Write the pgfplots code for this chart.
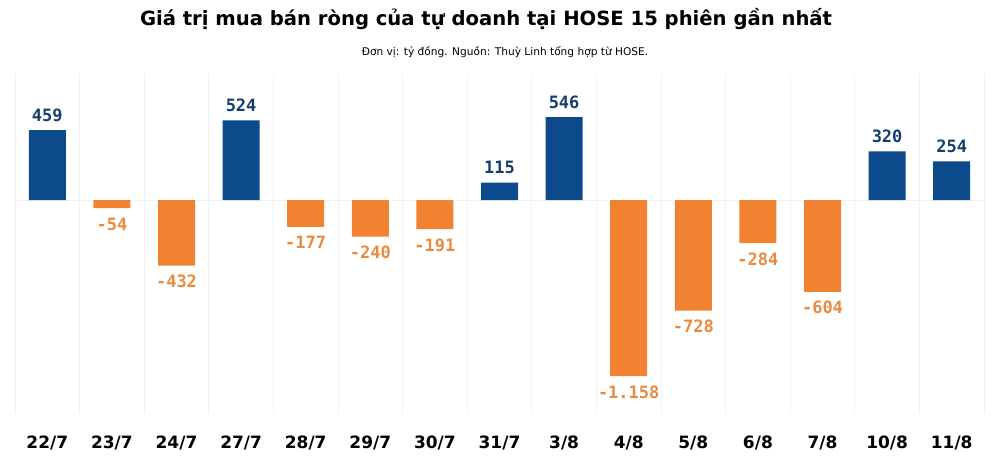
\documentclass[border=0pt]{standalone}
\usepackage{pgfplots}
\pgfplotsset{compat=1.18}
\usepackage{fontspec}
\setmainfont{DejaVu Sans}
\newfontfamily\monofont{DejaVu Sans Mono}
\definecolor{barblue}{HTML}{0D4A8B}
\definecolor{barorange}{HTML}{F08232}
\definecolor{lblblue}{HTML}{153E6E}
\definecolor{lblorange}{HTML}{E98A3E}
\definecolor{gridc}{HTML}{F1F1F1}
\begin{document}
\begin{tikzpicture}[x=1pt,y=1pt]
\useasboundingbox (0,0) rectangle (1000,459);
\node[font=\fontsize{19.6}{22}\selectfont\bfseries] at (486,440) {Giá trị mua bán ròng của tự doanh tại HOSE 15 phiên gần nhất};
\node[font=\fontsize{10.6}{12}\selectfont] at (505,407) {Đơn vị: tỷ đồng. Nguồn: Thuỳ Linh tổng hợp từ HOSE.};
\begin{axis}[
  at={(15pt,46pt)}, anchor=south west,
  scale only axis, width=969pt, height=339pt,
  xmin=-0.5, xmax=14.5, ymin=-1401, ymax=829,
  axis line style={draw=none},
  tick style={draw=none},
  ytick=\empty,
  xtick={0,...,14},
  xticklabels={22/7,23/7,24/7,27/7,28/7,29/7,30/7,31/7,3/8,4/8,5/8,6/8,7/8,10/8,11/8},
  xticklabel style={font=\fontsize{17}{20}\selectfont\bfseries, anchor=base, yshift=-31pt},
  minor xtick={-0.5,0.5,...,14.5},
  xminorgrids, minor grid style={draw=gridc, line width=0.8pt},
  ybar, bar width=37pt, bar shift=0pt,
  clip=false,
  /pgf/number format/.cd, 1000 sep={.}, assume math mode=true,
]
\draw[gridc, line width=0.8pt] (axis cs:-0.5,0) -- (axis cs:14.5,0);
\addplot[fill=barblue, draw=none,
  nodes near coords={\monofont\bfseries\pgfmathprintnumber{\pgfplotspointmeta}},
  every node near coord/.append style={font=\fontsize{17}{20}\selectfont, text=lblblue, anchor=south, yshift=5pt}]
  coordinates {(0,459) (3,524) (7,115) (8,546) (13,320) (14,254)};
\addplot[fill=barorange, draw=none,
  nodes near coords={\monofont\bfseries\pgfmathprintnumber{\pgfplotspointmeta}},
  every node near coord/.append style={font=\fontsize{17}{20}\selectfont, text=lblorange, anchor=north, yshift=-6pt}]
  coordinates {(1,-54) (2,-432) (4,-177) (5,-240) (6,-191) (9,-1158) (10,-728) (11,-284) (12,-604)};
\end{axis}
\end{tikzpicture}
\end{document}
